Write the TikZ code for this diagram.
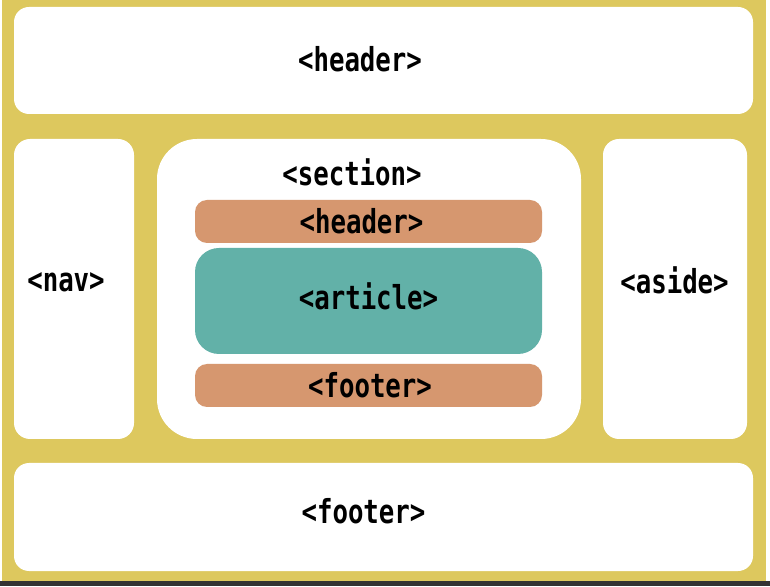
\documentclass[tikz,border=0pt]{standalone}
\usepackage{fontspec}
\newfontfamily\tagfont{DejaVu Sans Mono}[FakeStretch=0.78]
\definecolor{bgyellow}{HTML}{DDC85E}
\definecolor{tagorange}{HTML}{D6976F}
\definecolor{tagteal}{HTML}{62B1A8}
\definecolor{darkstrip}{HTML}{333333}
\tikzset{
  x=1pt,y=1pt,
  box/.style={rectangle,draw=none,fill=white,inner sep=0pt,outer sep=0pt},
  tag/.style={anchor=base,inner sep=0pt,font=\tagfont\bfseries\fontsize{33}{36}\selectfont,text=black}
}
\begin{document}
\begin{tikzpicture}
\useasboundingbox (0,0) rectangle (770,586);
\fill[white] (0,0) rectangle (770,586);
\fill[bgyellow] (2,5) rectangle (766,586);
\fill[darkstrip] (0,0) rectangle (770,5);
% outer boxes
\node[box,rounded corners=15pt,minimum width=739pt,minimum height=107pt] (topheader) at (383.5,525.5) {};
\node[box,rounded corners=16pt,minimum width=120pt,minimum height=300pt] (nav) at (74,297) {};
\node[box,rounded corners=40pt,minimum width=424pt,minimum height=300pt] (section) at (369,297) {};
\node[box,rounded corners=16pt,minimum width=144pt,minimum height=300pt] (aside) at (675,297) {};
\node[box,rounded corners=15pt,minimum width=739pt,minimum height=108pt] (footer) at (383.5,69) {};
% inner boxes
\node[box,fill=tagorange,rounded corners=12pt,minimum width=347pt,minimum height=43pt] (inheader) at (368.5,364.5) {};
\node[box,fill=tagteal,rounded corners=24pt,minimum width=347pt,minimum height=106pt] (article) at (368.5,285) {};
\node[box,fill=tagorange,rounded corners=12pt,minimum width=347pt,minimum height=43pt] (infooter) at (368.5,200.5) {};
% labels
\node[tag] (ltopheader) at (360,514) {<header>};
\node[tag] (lnav) at (66,294) {<nav>};
\node[tag] (laside) at (674.5,292) {<aside>};
\node[tag] (lsection) at (352,400) {<section>};
\node[tag] (linheader) at (361.5,352) {<header>};
\node[tag] (larticle) at (368.5,276) {<article>};
\node[tag] (linfooter) at (370,188) {<footer>};
\node[tag] (lfooter) at (363.5,63) {<footer>};
\end{tikzpicture}
\end{document}
